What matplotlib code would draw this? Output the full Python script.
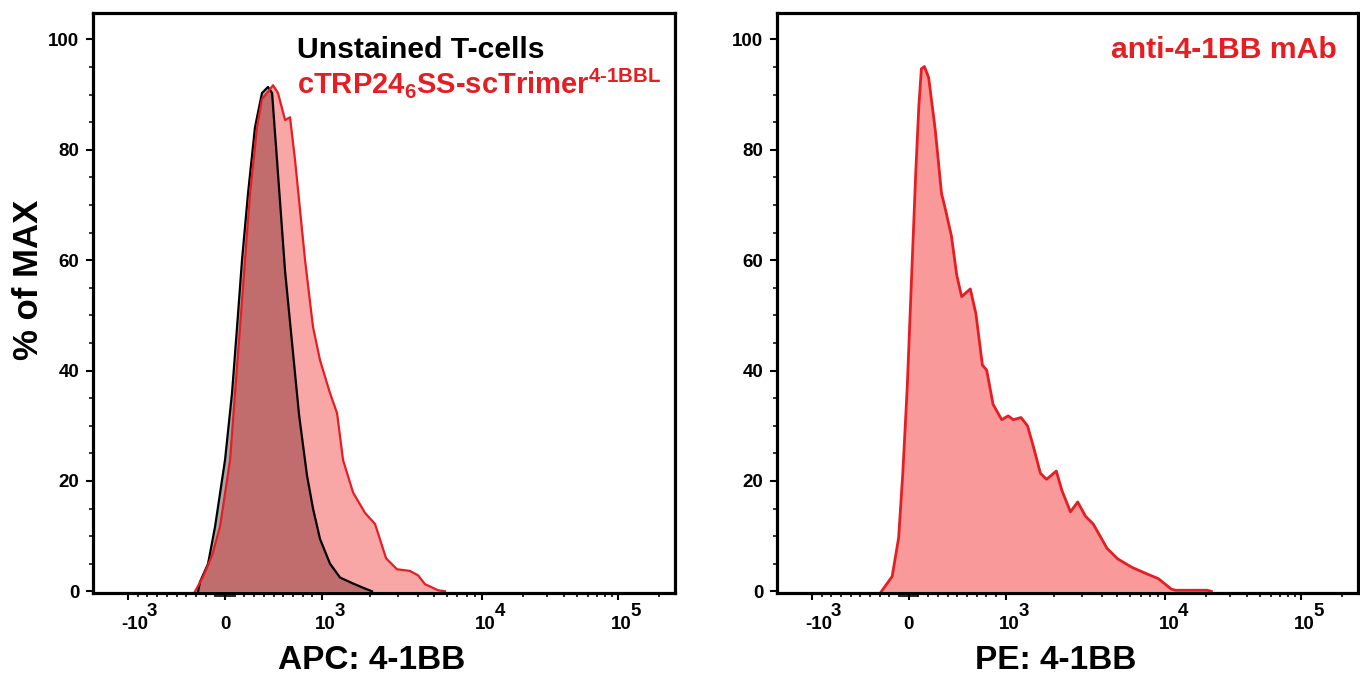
import numpy as np
import matplotlib
matplotlib.use("Agg")
import matplotlib.pyplot as plt

plt.rcParams.update({
    "font.family": ["Liberation Sans", "DejaVu Sans"],
    "font.weight": "bold",
    "mathtext.fontset": "custom",
    "mathtext.rm": "Liberation Sans:bold",
    "mathtext.it": "Liberation Sans:bold",
    "mathtext.bf": "Liberation Sans:bold",
    "mathtext.sf": "Liberation Sans:bold",
    "mathtext.default": "rm",
})

# ---------------- data (fluorescence intensity, % of max) ----------------
unstained_x = [-278, -258, -175, -103, 0, 72, 124, 175, 237, 309, 381, 443, 485, 536,
               619, 691, 763, 845, 907, 979, 1122, 1296, 1540, 1857, 2054]
unstained_y = [0, 1.7, 5.0, 11.7, 23.8, 35.9, 47.9, 60.0, 72.1, 84.1, 90.3, 91.4, 90.3, 78.1,
               58.0, 45.0, 32.0, 21.0, 15.0, 9.5, 5.0, 2.5, 1.5, 0.5, 0]

trimer_x = [-309, -227, -134, -52, 52, 103, 155, 206, 258, 330, 381, 433, 495, 546, 619, 670,
            722, 825, 907, 979, 1122, 1241, 1353, 1563, 1857, 2144, 2512, 2940, 3548,
            3981, 4400, 5310, 5870]
trimer_y = [0, 2.6, 6.5, 11.7, 23.8, 35.9, 47.9, 60.0, 72.1, 84.1, 89.2, 90.3, 91.7, 90.3,
            85.4, 85.9, 78.1, 60.0, 47.9, 41.9, 35.9, 32.3, 23.8, 17.9, 14.2, 12.2, 6.0,
            4.0, 3.7, 2.9, 1.3, 0.2, 0]

mab_x = [-282, -172, -105, -62, -16, 28, 72, 103, 130, 161, 205, 272, 338, 381, 440,
         495, 546, 635, 693, 760, 804, 870, 959, 1037, 1116, 1248, 1370, 1496, 1650,
         1804, 2075, 2249, 2545, 2826, 3162, 3535, 4310, 5020, 6220, 7760, 9040,
         11070, 11900, 20360, 21800]
mab_y = [0, 2.7, 9.7, 21.4, 37.0, 56.6, 76.0, 87.7, 94.7, 95.1, 93.1, 83.8, 72.1, 69.0,
         64.4, 57.3, 53.4, 54.8, 50.3, 41.0, 40.1, 33.9, 31.1, 31.8, 31.1, 31.5, 30.0,
         26.1, 21.4, 20.3, 21.8, 18.3, 14.4, 16.2, 13.6, 12.2, 7.8, 5.9, 4.3, 3.1, 2.3,
         0.4, 0.2, 0.2, 0]

major_ticks = [-1000, 0, 1000, 10000, 100000]
tick_base = ["-10", "0", "10", "10", "10"]
tick_sup = ["3", "", "3", "4", "5"]
y_ticks = [0, 20, 40, 60, 80, 100]

label_unstained = "Unstained T-cells"
label_trimer = r"cTRP24$_{6}$SS-scTrimer$^{4\text{-}1BBL}$"
label_mab = "anti-4-1BB mAb"
xlabels = ["APC: 4-1BB", "PE: 4-1BB"]
ylabel = "% of MAX"


# ---------------- biexponential-like axis scale ----------------
def fwd(v):
    v = np.asarray(v, dtype=float)
    a = np.abs(v)
    with np.errstate(all="ignore"):
        lin = v * 0.097
        hi = 97 + 160 * np.log10(np.clip(a, 1000, 1e4) / 1000) + 136 * np.log10(np.maximum(a, 1e4) / 1e4)
        neg = -(97 + 97 * np.log10(np.maximum(a, 1000) / 1000))
    return np.where(a <= 1000, lin, np.where(v > 0, hi, neg))


def inv(p):
    p = np.asarray(p, dtype=float)
    with np.errstate(all="ignore"):
        lin = p / 0.097
        hi = np.where(p <= 257, 1000 * 10 ** ((p - 97) / 160), 1e4 * 10 ** ((p - 257) / 136))
        neg = -1000 * 10 ** ((-p - 97) / 97)
    return np.where(np.abs(p) <= 97, lin, np.where(p > 0, hi, neg))


minor_ticks = ([v for v in range(-900, 1000, 100) if v != 0]
               + [-80, -60, -40, -20, 20, 40, 60, 80]
               + [k * 1000 for k in range(2, 10)]
               + [k * 10000 for k in range(2, 10)]
               + [200000])

RED = "#e61e23"

fig = plt.figure(figsize=(13.6, 6.76), dpi=100)
ax1 = fig.add_axes([93 / 1360, 83 / 676, 582 / 1360, 580 / 676])
ax2 = fig.add_axes([777 / 1360, 83 / 676, 581 / 1360, 580 / 676])

for ax in (ax1, ax2):
    ax.set_xscale("function", functions=(fwd, inv))
    ax.set_xlim(-2296, 262144)
    ax.set_ylim(-0.3, 104.8)
    for s in ax.spines.values():
        s.set_linewidth(2.3)
    ax.set_xticks(major_ticks)
    ax.set_xticklabels([""] * len(major_ticks))
    ax.set_xticks(minor_ticks, minor=True)
    ax.set_yticks(y_ticks)
    ax.set_yticklabels([str(t) for t in y_ticks], fontsize=13.5, fontweight="bold")
    ax.set_yticks(np.arange(0, 105, 5), minor=True)
    ax.tick_params(axis="x", which="major", length=5, width=1.5, direction="out")
    ax.tick_params(axis="x", which="minor", length=3, width=1.2, direction="out")
    ax.tick_params(axis="y", which="major", length=4.8, width=1.5, pad=5.0)
    ax.tick_params(axis="y", which="minor", length=2.8, width=1.1)
    for v, b, s in zip(major_ticks, tick_base, tick_sup):
        if s == "":
            ax.annotate(b, xy=(v, 0), xycoords=("data", "axes fraction"),
                        xytext=(0, -23), textcoords="offset pixels",
                        ha="center", va="top", fontsize=13.5, fontweight="bold")
        else:
            t = ax.annotate(b, xy=(v, 0), xycoords=("data", "axes fraction"),
                            xytext=(-7, -23), textcoords="offset pixels",
                            ha="left", va="top", fontsize=13.5, fontweight="bold")
            ax.annotate(s, xy=(1, 1), xycoords=t, xytext=(-1, -4),
                        textcoords="offset pixels", ha="left", va="bottom",
                        fontsize=13.5, fontweight="bold")

# left panel
ax1.fill_between(unstained_x, unstained_y, 0, color="black", alpha=0.34, lw=0)
ax1.plot(unstained_x, unstained_y, color="black", lw=1.6)
ax1.fill_between(trimer_x, trimer_y, 0, color=(0.94, 0, 0), alpha=0.35, lw=0)
ax1.plot(trimer_x, trimer_y, color=RED, lw=1.6)

# right panel
ax2.fill_between(mab_x, mab_y, 0, color=(0.94, 0, 0), alpha=0.4, lw=0)
ax2.plot(mab_x, mab_y, color=RED, lw=2.0)

fig.text(297 / 1360, 1 - 58 / 676, label_unstained, color="black", fontsize=21.7,
         fontweight="bold", ha="left", va="baseline")
fig.text(297 / 1360, 1 - 93 / 676, label_trimer, color=RED, fontsize=21.0,
         fontweight="bold", ha="left", va="baseline")
fig.text(1337 / 1360, 1 - 58 / 676, label_mab, color=RED, fontsize=21.7,
         fontweight="bold", ha="right", va="baseline")

fig.text(372 / 1360, 1 - 669 / 676, xlabels[0], fontsize=24, fontweight="bold",
         ha="center", va="baseline")
fig.text(1056 / 1360, 1 - 669 / 676, xlabels[1], fontsize=24, fontweight="bold",
         ha="center", va="baseline")
fig.text(28 / 1360, 1 - 280 / 676, ylabel, fontsize=25, fontweight="bold",
         rotation=90, ha="center", va="center")

fig.savefig("out.png", dpi=100)
